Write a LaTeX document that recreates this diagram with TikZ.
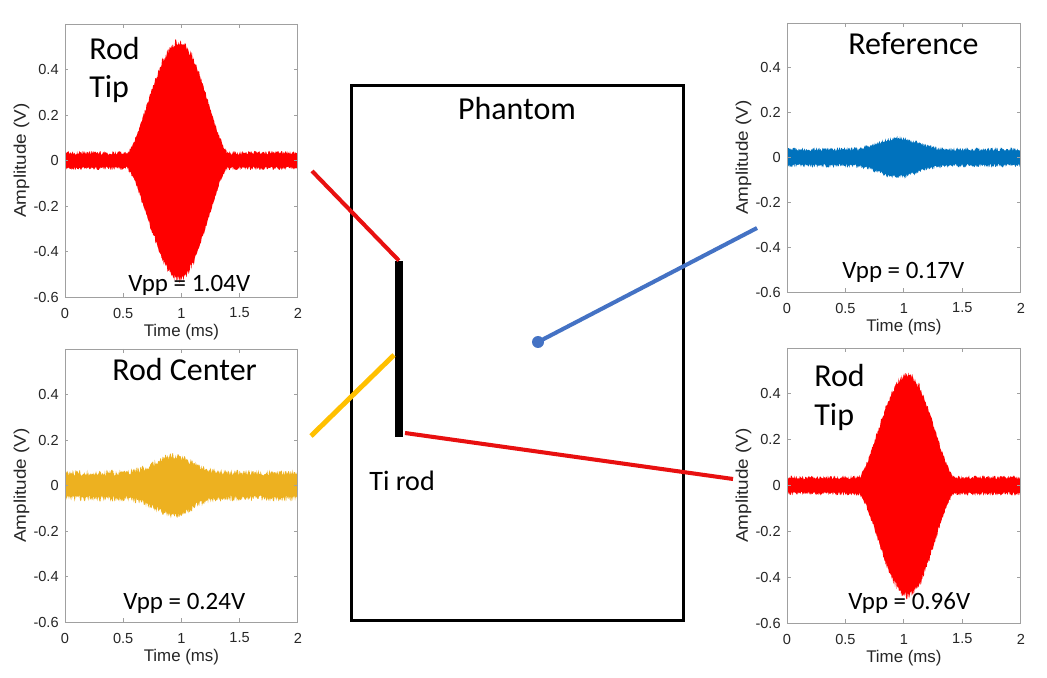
\documentclass[tikz,border=0pt]{standalone}
\usepackage{fontspec}
\setmainfont{Carlito}
\newfontfamily\axfont{Liberation Sans}
\definecolor{sigred}{RGB}{255,0,0}
\definecolor{sigblue}{RGB}{0,114,189}
\definecolor{sigyellow}{RGB}{237,177,32}
\definecolor{linered}{RGB}{232,16,16}
\definecolor{lineblue}{RGB}{68,114,196}
\definecolor{lineyellow}{RGB}{255,192,0}
\definecolor{axgray}{RGB}{160,160,160}
\definecolor{axtext}{RGB}{38,38,38}
\tikzset{
  axisline/.style={draw=axgray, line width=0.5pt},
  ticklbl/.style={font=\axfont\fontsize{8.3}{10}\selectfont, text=axtext, inner sep=0pt},
  axlbl/.style={font=\axfont\fontsize{9.6}{11}\selectfont, text=axtext, inner sep=0pt},
  titlelbl/.style={font=\fontsize{18.2}{21}\selectfont, inner sep=0pt, anchor=base west},
  vpplbl/.style={font=\fontsize{14.2}{17}\selectfont, inner sep=0pt, anchor=base west},
  conn/.style={line width=2.3pt},
  phantombox/.style={draw=black, line width=1.7pt, inner sep=0pt},
  rodbar/.style={fill=black, inner sep=0pt, minimum width=0.16cm, minimum height=3.52cm},
  refdot/.style={circle, fill=lineblue, inner sep=0pt, minimum size=0.24cm},
}
% #1 L, #2 T, #3 R, #4 B, #5 colour, #6 seed, #7 noise ; burst envelope in \sigenv (function of \x)
\newcommand\plotpanel[7]{%
  \pgfmathsetmacro\axxu{(#3-#1)*0.01}%
  \pgfmathsetmacro\axyu{(#4-#2)*0.02/1.2}%
  \pgfmathsetseed{#6}%
  \begin{scope}[shift={(#1,{(#2+#4)/2})}, x=\axxu cm, y=\axyu cm]
    \fill[#5] plot[domain=0:2, samples=420] (\x,{#7*(0.75+0.5*rnd)+(\sigenv)*(0.96+0.06*rnd)})
      -- plot[domain=2:0, samples=420] (\x,{-(#7*(0.75+0.5*rnd)+(\sigenv)*(0.96+0.06*rnd))})
      -- cycle;
    \draw[axisline] (0,-0.6) rectangle (2,0.6);
    \foreach \xv in {0,0.5,1,1.5,2}{
      \draw[axisline] (\xv,-0.6) -- ++(0,0.016);
      \draw[axisline] (\xv,0.6) -- ++(0,-0.016);
      \node[ticklbl, yshift=-0.32cm] at (\xv,-0.6) {\xv};
    }
    \foreach \yv in {-0.6,-0.4,-0.2,0,0.2,0.4}{
      \draw[axisline] (0,\yv) -- ++(0.03,0);
      \draw[axisline] (2,\yv) -- ++(-0.03,0);
      \node[ticklbl, anchor=east, xshift=-0.12cm] at (0,\yv) {\yv};
    }
    \node[axlbl, yshift=-0.71cm] at (1,-0.6) {Time (ms)};
    \path (0,0) ++(-0.87cm,0) node[axlbl, rotate=90, xscale=1.12] {Amplitude (V)};
  \end{scope}%
}
\begin{document}
\begin{tikzpicture}[x=0.02cm, y=-0.02cm]
\useasboundingbox (0,0) rectangle (1047,678);
\fill[white] (0,0) rectangle (1047,678);

% plots
\def\sigenv{0.49*max(0.001,cos(min(90,abs(90*(\x-0.98)/(\x<0.98?0.45:0.42)))))^1.5}
\plotpanel{65}{24}{298}{297}{sigred}{11}{0.034}
\def\sigenv{0.075*exp(max(-9,-((\x-0.93)/0.22)*((\x-0.93)/0.22)))}
\plotpanel{65}{349}{298}{622}{sigyellow}{23}{0.056}
\def\sigenv{0.052*exp(max(-9,-((\x-0.95)/0.22)*((\x-0.95)/0.22)))}
\plotpanel{787}{23}{1021}{292}{sigblue}{37}{0.036}
\def\sigenv{0.45*max(0.001,cos(min(90,abs(90*(\x-1.03)/(\x<1.03?0.42:0.40)))))^1.5}
\plotpanel{787}{348}{1021}{623}{sigred}{41}{0.035}

% plot titles
\node[titlelbl] (t1a) at (89,60) {Rod};
\node[titlelbl] (t1b) at (89,98) {Tip};
\node[vpplbl] (v1) at (128,292) {Vpp = 1.04V};
\node[titlelbl] (t2) at (112,380) {Rod Center};
\node[vpplbl] (v2) at (123,609) {Vpp = 0.24V};
\node[titlelbl] (t3) at (848,55) {Reference};
\node[vpplbl] (v3) at (842,279) {Vpp = 0.17V};
\node[titlelbl] (t4a) at (814,387) {Rod};
\node[titlelbl] (t4b) at (814,425) {Tip};
\node[vpplbl] (v4) at (848,609) {Vpp = 0.96V};

% phantom
\node[phantombox, minimum width=6.66cm, minimum height=10.72cm] (phantom) at (517.5,353) {};
\node[font=\fontsize{18.2}{21}\selectfont, inner sep=0pt, anchor=base] (phlbl) at (517,120) {Phantom};
\node[rodbar] (rod) at (399,349) {};
\node[font=\fontsize{16}{19}\selectfont, inner sep=0pt, anchor=base west] (tilbl) at (369,490) {Ti rod};
\node[refdot] (ref) at (538,342) {};

% connector ends
\coordinate (tipL) at (312,171);
\coordinate (midL) at (311,436);
\coordinate (rodmid) at (394,355);
\coordinate (rodlow) at (405,433);
\coordinate (tipR) at (733,479);
\coordinate (refR) at (757,228);

\draw[conn, linered] (tipL) -- (rod.north);
\draw[conn, lineyellow, line width=2.8pt] (midL) -- (rodmid);
\draw[conn, linered] (rodlow) -- (tipR);
\draw[conn, lineblue] (ref.center) -- (refR);
\end{tikzpicture}
\end{document}
